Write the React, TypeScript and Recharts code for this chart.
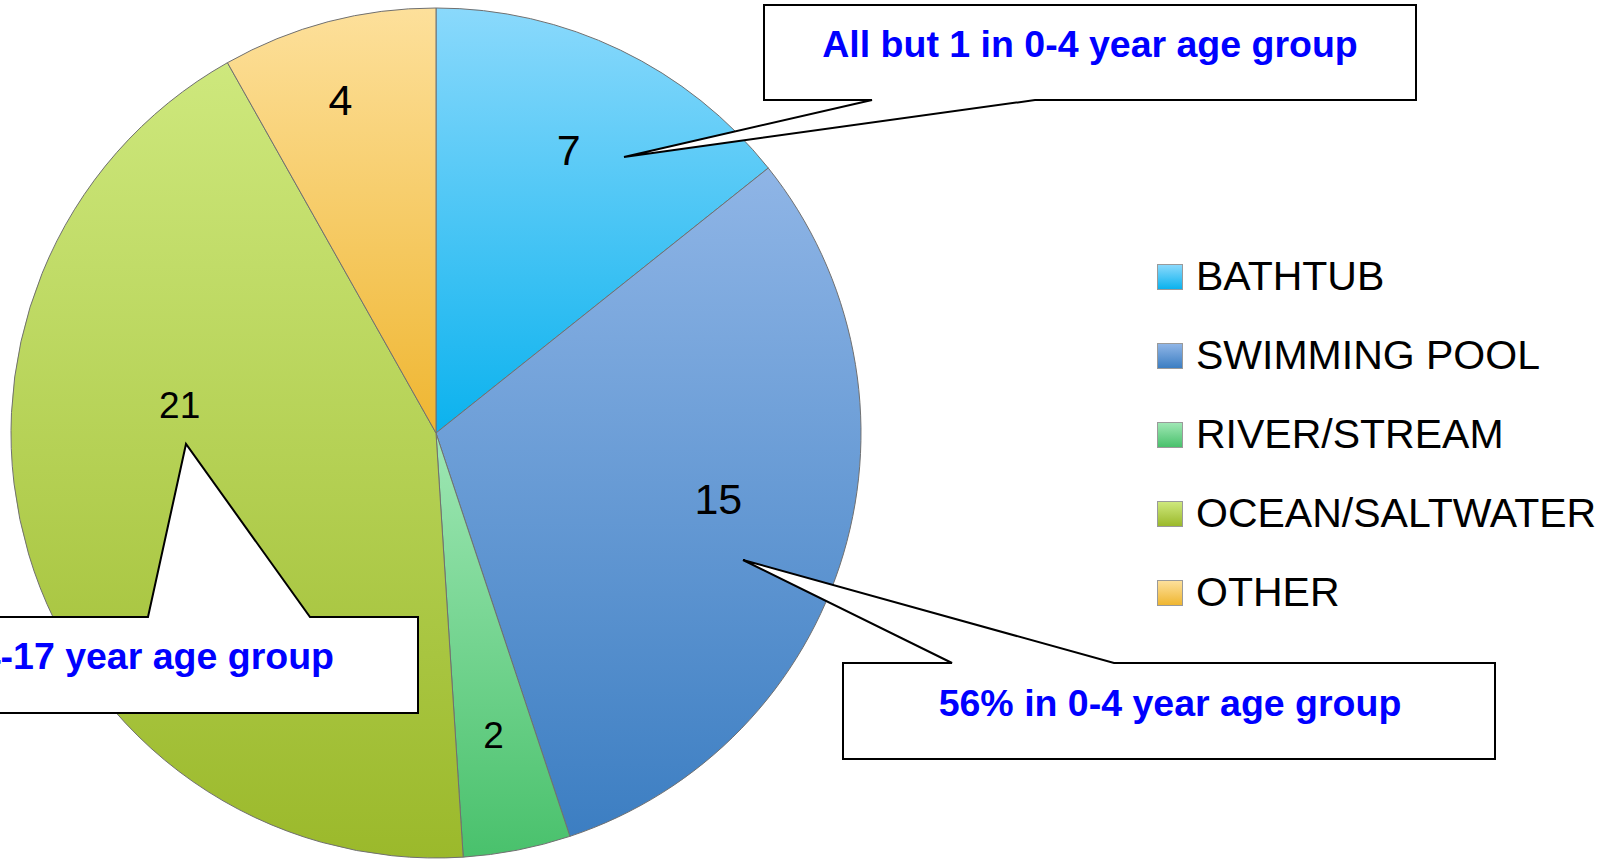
import React from 'react';
import { PieChart, Pie, Cell, Legend } from 'recharts';

// ---- data ----
const categories = ['BATHTUB', 'SWIMMING POOL', 'RIVER/STREAM', 'OCEAN/SALTWATER', 'OTHER'];
const counts = [7, 15, 2, 21, 4];

// gradient stops per slice (top -> bottom)
const topColors = ['#8ad9fc', '#8fb5e6', '#9fe7b4', '#cee87d', '#fde09b'];
const bottomColors = ['#0bb2ee', '#3c7ec2', '#49c16c', '#9bb92b', '#efb631'];

const data = categories.map((name, i) => ({ name, value: counts[i] }));

// label placement tweaks (Excel had a couple of labels dragged around)
const LABEL_LAYOUT = [
  { dx: 0, dy: -7, size: 43 },
  { dx: -11, dy: -21, size: 43 },
  { dx: -1, dy: 2, size: 37 },
  { dx: 37, dy: -115, size: 37 },
  { dx: -18, dy: -37, size: 43 },
];

const FONT = "'Liberation Sans', Arial, sans-serif";
const RAD = Math.PI / 180;

const renderLabel = (props: any) => {
  const { cx, cy, midAngle, outerRadius, index, value } = props;
  const r = outerRadius * 0.72;
  const lay = LABEL_LAYOUT[index];
  const x = cx + r * Math.cos(-midAngle * RAD) + lay.dx;
  const y = cy + r * Math.sin(-midAngle * RAD) + lay.dy;
  return (
    <text
      x={x}
      y={y}
      fill="#000"
      textAnchor="middle"
      dominantBaseline="central"
      fontFamily={FONT}
      fontSize={lay.size}
    >
      {value}
    </text>
  );
};

// legend keeps the data order (recharts sorts payload by name otherwise)
const renderLegend = () => (
  <div>
    {categories.map((name, i) => (
      <div key={name} style={{ display: 'flex', alignItems: 'center', height: 79 }}>
        <div
          style={{
            width: 26,
            height: 26,
            boxSizing: 'border-box',
            border: '1px solid #9a9a9a',
            background: `linear-gradient(${topColors[i]}, ${bottomColors[i]})`,
          }}
        />
        <span
          style={{
            marginLeft: 13,
            fontFamily: FONT,
            fontSize: 41,
            color: '#000',
            whiteSpace: 'nowrap',
            lineHeight: 1,
          }}
        >
          {name}
        </span>
      </div>
    ))}
  </div>
);

const calloutText = {
  fill: '#0000ff',
  fontFamily: FONT,
  fontWeight: 700,
  fontSize: 37.5,
} as const;

export default function App() {
  return (
    <div
      style={{
        position: 'absolute',
        left: 0,
        top: 0,
        width: 1618,
        height: 861,
        overflow: 'hidden',
        background: '#fff',
      }}
    >
      <svg width={0} height={0} style={{ position: 'absolute' }}>
        <defs>
          {categories.map((c, i) => (
            <linearGradient key={c} id={`slice-${i}`} x1="0" y1="0" x2="0" y2="1">
              <stop offset="0%" stopColor={topColors[i]} />
              <stop offset="100%" stopColor={bottomColors[i]} />
            </linearGradient>
          ))}
        </defs>
      </svg>

      <PieChart width={1618} height={861} margin={{ top: 0, right: 0, bottom: 0, left: 0 }}>
        <Pie
          data={data}
          dataKey="value"
          nameKey="name"
          cx={436}
          cy={433}
          outerRadius={425}
          startAngle={90}
          endAngle={-270}
          stroke="#707070"
          strokeWidth={1}
          label={renderLabel}
          labelLine={false}
          isAnimationActive={false}
        >
          {data.map((d, i) => (
            <Cell key={d.name} fill={`url(#slice-${i})`} />
          ))}
        </Pie>
        <Legend
          layout="vertical"
          align="right"
          verticalAlign="top"
          content={renderLegend}
          wrapperStyle={{ left: 1157, top: 237, right: 'auto', width: 460 }}
        />
      </PieChart>

      {/* callouts */}
      <svg
        width={1618}
        height={861}
        style={{ position: 'absolute', left: 0, top: 0, pointerEvents: 'none' }}
      >
        <path
          d="M764,5 H1416 V100 H1035 L624,157 L872,100 H764 Z"
          fill="#fff"
          stroke="#000"
          strokeWidth={2}
        />
        <text x={1090} y={57} textAnchor="middle" {...calloutText}>
          All but 1 in 0-4 year age group
        </text>

        <path
          d="M843,663 H952 L743,560 L1114,663 H1495 V759 H843 Z"
          fill="#fff"
          stroke="#000"
          strokeWidth={2}
        />
        <text x={1170} y={716} textAnchor="middle" {...calloutText}>
          56% in 0-4 year age group
        </text>

        <path
          d="M-200,617 H148 L186,444 L310,617 H418 V713 H-200 Z"
          fill="#fff"
          stroke="#000"
          strokeWidth={2}
        />
        <text x={334} y={669} textAnchor="end" {...calloutText}>
          4-17 year age group
        </text>
      </svg>
    </div>
  );
}
